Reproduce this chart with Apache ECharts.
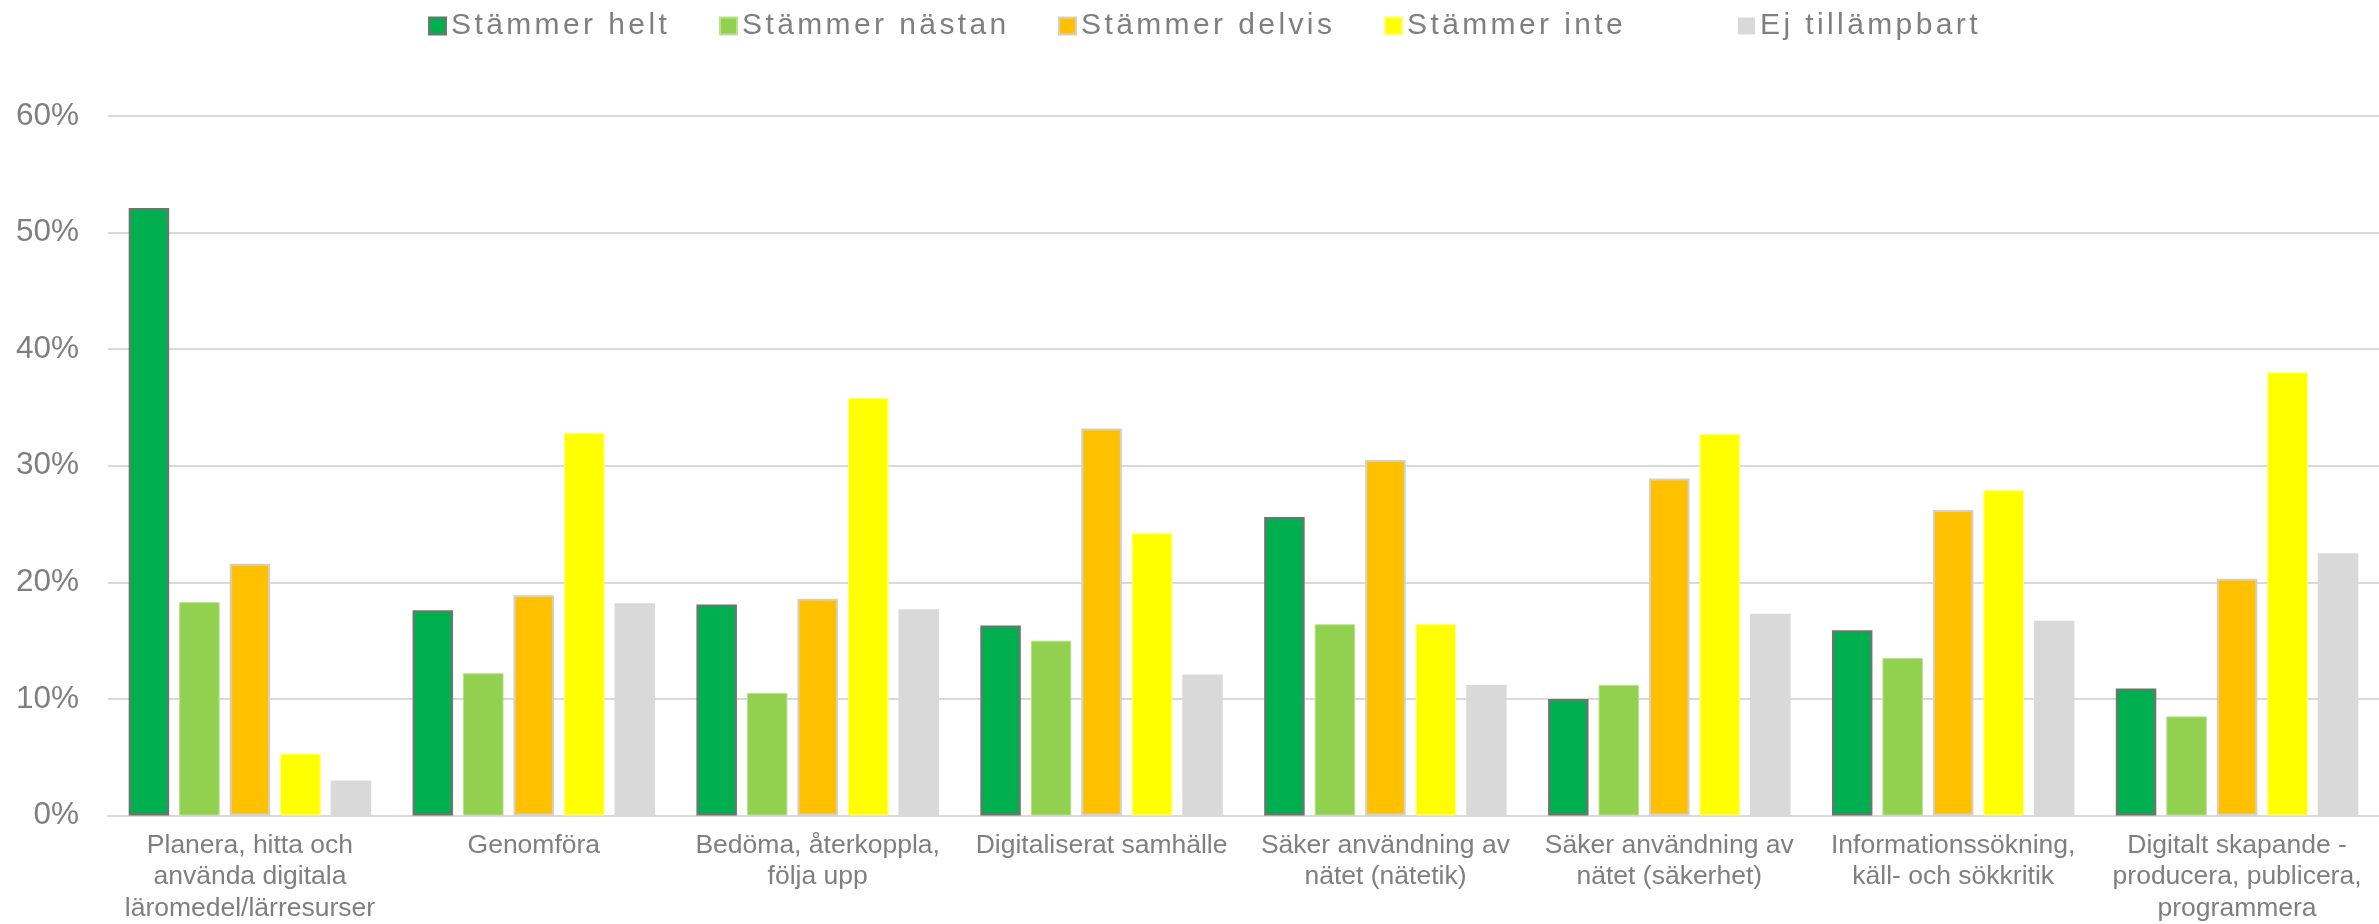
<!DOCTYPE html>
<html>
<head>
<meta charset="utf-8">
<style>
  html, body { margin: 0; padding: 0; background: #ffffff; }
  #chart { width: 2379px; height: 924px; }
</style>
<script src="https://cdn.jsdelivr.net/npm/echarts@6/dist/echarts.min.js"></script>
</head>
<body>
<div id="chart"></div>
<script>
// Areas of digital competence
const categories = [
  'Planera, hitta och\nanvända digitala\nläromedel/lärresurser',
  'Genomföra',
  'Bedöma, återkoppla,\nfölja upp',
  'Digitaliserat samhälle',
  'Säker användning av\nnätet (nätetik)',
  'Säker användning av\nnätet (säkerhet)',
  'Informationssökning,\nkäll- och sökkritik',
  'Digitalt skapande -\nproducera, publicera,\nprogrammera'
];

// Share of answers (%) per response option
const stammerHelt    = [52.1, 17.6, 18.1, 16.3, 25.6, 10.0, 15.9, 10.9];
const stammerNastan  = [18.3, 12.2, 10.5, 15.0, 16.4, 11.2, 13.5,  8.5];
const stammerDelvis  = [21.6, 18.9, 18.6, 33.2, 30.5, 28.9, 26.2, 20.3];
const stammerInte    = [ 5.3, 32.8, 35.8, 24.2, 16.4, 32.7, 27.9, 38.0];
const ejTillampbart  = [ 3.0, 18.2, 17.7, 12.1, 11.2, 17.3, 16.7, 22.5];

const seriesNames = ['Stämmer helt', 'Stämmer nästan', 'Stämmer delvis', 'Stämmer inte', 'Ej tillämpbart'];
const yTicks = [0, 10, 20, 30, 40, 50, 60];

const fontFamily = '"Liberation Sans", Arial, Helvetica, sans-serif';
const textGray = '#7f7f7f';
const LEGEND_FONT = 30;

// Legend labels are letter-spaced; canvas supports that natively,
// so widen glyph spacing only for text drawn at the legend font size.
(function () {
  const proto = CanvasRenderingContext2D.prototype;
  const origFill = proto.fillText;
  proto.fillText = function () {
    if (this.font && this.font.indexOf(LEGEND_FONT + 'px') >= 0 && 'letterSpacing' in this) {
      const prev = this.letterSpacing;
      this.letterSpacing = '3.4px';
      origFill.apply(this, arguments);
      this.letterSpacing = prev;
      return;
    }
    return origFill.apply(this, arguments);
  };
})();

const styles = [
  { color: '#00B050', borderColor: '#767171', borderWidth: 2 },
  { color: '#92D050', borderColor: '#b9e093', borderWidth: 1 },
  { color: '#FFC000', borderColor: '#d6d0c4', borderWidth: 2 },
  { color: '#FFFF00', borderColor: '#ffff70', borderWidth: 1 },
  { color: '#D9D9D9', borderColor: '#D9D9D9', borderWidth: 0 }
];
const values = [stammerHelt, stammerNastan, stammerDelvis, stammerInte, ejTillampbart];

// one legend entry per component so each can sit at its own spot
const legendLeft = [428, 719, 1058, 1384, 1738];

const chart = echarts.init(document.getElementById('chart'));
chart.setOption({
  animation: false,
  backgroundColor: '#ffffff',
  legend: seriesNames.map((name, i) => ({
    data: [name],
    left: legendLeft[i],
    top: 11,
    padding: 0,
    itemWidth: 17,
    itemHeight: 17,
    icon: 'rect',
    textStyle: { color: textGray, fontSize: LEGEND_FONT, fontFamily: fontFamily }
  })),
  grid: { left: 108, right: 0, top: 116, bottom: 108.5, containLabel: false },
  xAxis: {
    type: 'category',
    data: categories,
    axisTick: { show: false },
    axisLine: { show: true, lineStyle: { color: '#d9d9d9', width: 2 } },
    axisLabel: {
      interval: 0,
      color: textGray,
      fontSize: 26.5,
      lineHeight: 31.5,
      fontFamily: fontFamily,
      margin: 14,
      align: 'center'
    }
  },
  yAxis: {
    type: 'value',
    min: yTicks[0],
    max: yTicks[yTicks.length - 1],
    interval: 10,
    axisLine: { show: false },
    axisTick: { show: false },
    splitLine: { lineStyle: { color: '#d9d9d9', width: 2 } },
    axisLabel: {
      formatter: '{value}%',
      color: textGray,
      fontSize: 31.5,
      fontFamily: fontFamily,
      margin: 29
    }
  },
  series: seriesNames.map((name, i) => ({
    name: name,
    type: 'bar',
    data: values[i],
    barWidth: 40.5,
    barGap: '24.7%',
    itemStyle: styles[i]
  }))
});
</script>
</body>
</html>
